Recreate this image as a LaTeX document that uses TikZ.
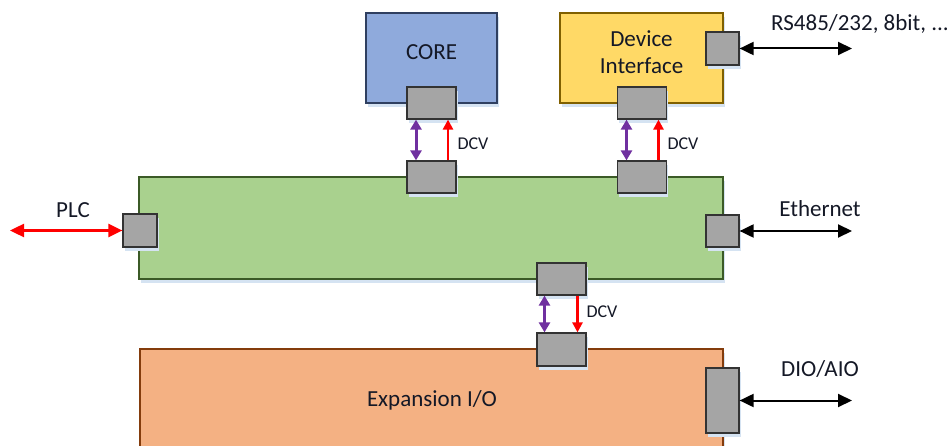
\documentclass[tikz,border=0pt]{standalone}
\usepackage{fontspec}
\setmainfont{Carlito}
\usetikzlibrary{arrows.meta,shadows}
\definecolor{coreblue}{HTML}{8FAADC}
\definecolor{coreline}{HTML}{2F3F60}
\definecolor{devyellow}{HTML}{FFD966}
\definecolor{devline}{HTML}{806000}
\definecolor{busgreen}{HTML}{A9D18E}
\definecolor{busline}{HTML}{3B5A26}
\definecolor{exporange}{HTML}{F4B183}
\definecolor{expline}{HTML}{843C0C}
\definecolor{portgray}{HTML}{A5A5A5}
\definecolor{portline}{HTML}{333333}
\definecolor{sigpurple}{HTML}{7030A0}
\definecolor{sigred}{HTML}{FF0000}
\definecolor{shadowblue}{HTML}{D5E3F2}
\definecolor{textdark}{HTML}{141826}
\tikzset{
  boxshadow/.style={drop shadow={shadow xshift=1.5pt, shadow yshift=-4pt, fill=shadowblue, opacity=1}},
  block/.style={draw, line width=1.6pt, inner sep=0pt, boxshadow},
  port/.style={draw=portline, fill=portgray, line width=1.2pt, inner sep=0pt, boxshadow},
  lbl/.style={font=\fontsize{23}{27}\selectfont, text=textdark, inner sep=0pt, align=center},
  dcv/.style={font=\fontsize{18}{21}\selectfont, text=textdark, inner sep=0pt},
  extarrow/.style={line width=2pt, {Triangle[length=14pt,width=13pt]}-{Triangle[length=14pt,width=13pt]}},
  plcarrow/.style={draw=sigred, line width=2.4pt, {Triangle[length=14pt,width=13pt]}-{Triangle[length=14pt,width=13pt]}},
  busarrow/.style={draw=sigpurple, fill=sigpurple, line width=3pt, {Triangle[length=10pt,width=11pt]}-{Triangle[length=10pt,width=11pt]}},
  dcvarrow/.style={draw=sigred, fill=sigred, line width=2.5pt, -{Triangle[length=10pt,width=10pt]}},
}
\begin{document}
\begin{tikzpicture}[x=1pt,y=-1pt]
\useasboundingbox (0,0) rectangle (950,446);
\clip (0,0) rectangle (950,446);

% main blocks
\node[block, fill=coreblue, draw=coreline, minimum width=131pt, minimum height=90pt] (core) at (431.5,58) {};
\node[block, fill=devyellow, draw=devline, minimum width=163pt, minimum height=90pt] (dev) at (641.5,58) {};
\node[block, fill=busgreen, draw=busline, minimum width=584pt, minimum height=102pt] (bus) at (431,228) {};
\node[block, fill=exporange, draw=expline, minimum width=583pt, minimum height=112pt] (exp) at (431.5,405) {};

% block titles
\node[lbl] (corelbl) at (431.5,52) {CORE};
\node[lbl] (devlbl) at (641.5,52) {Device\\Interface};
\node[lbl] (explbl) at (432,400) {Expansion I/O};

% ports
\node[port, minimum width=49pt, minimum height=32pt] (pc1) at (431.5,103) {};
\node[port, minimum width=49pt, minimum height=32pt] (pc2) at (431.5,177) {};
\node[port, minimum width=49pt, minimum height=32pt] (pd1) at (642,103) {};
\node[port, minimum width=49pt, minimum height=32pt] (pd2) at (642,177) {};
\node[port, minimum width=33pt, minimum height=33pt] (pd3) at (722.5,48.5) {};
\node[port, minimum width=34pt, minimum height=33pt] (pplc) at (140,230.5) {};
\node[port, minimum width=33pt, minimum height=32pt] (peth) at (722.5,231) {};
\node[port, minimum width=49pt, minimum height=32pt] (pe1) at (561.5,279) {};
\node[port, minimum width=49pt, minimum height=33pt] (pe2) at (561.5,349.5) {};
\node[port, minimum width=33pt, minimum height=65pt] (pdio) at (722.5,400.5) {};

% external endpoints
\coordinate (rsend) at (852,48.5);
\coordinate (plcend) at (10,230.5);
\coordinate (ethend) at (852,231);
\coordinate (dioend) at (852,400.5);

% external links
\draw[extarrow] (pd3.east) -- (rsend);
\draw[extarrow] (peth.east) -- (ethend);
\draw[extarrow] (pdio.east) -- (dioend);
\draw[plcarrow] (plcend) -- (pplc.west);

% internal links
\draw[busarrow] ([xshift=-15.5pt]pc1.south) -- ([xshift=-15.5pt]pc2.north);
\draw[dcvarrow] ([xshift=16.5pt]pc2.north) -- ([xshift=16.5pt]pc1.south);
\draw[busarrow] ([xshift=-15.5pt]pd1.south) -- ([xshift=-15.5pt]pd2.north);
\draw[dcvarrow] ([xshift=16.5pt]pd2.north) -- ([xshift=16.5pt]pd1.south);
\draw[busarrow] ([xshift=-17pt]pe1.south) -- ([xshift=-17pt]pe2.north);
\draw[dcvarrow] ([xshift=16pt]pe1.south) -- ([xshift=16pt]pe2.north);

% labels
\node[lbl] (lrs) at (860,24) {RS485/232, 8bit, ...};
\node[lbl] (lplc) at (73,210) {PLC};
\node[lbl] (leth) at (820,209) {Ethernet};
\node[lbl] (ldio) at (820,369) {DIO/AIO};
\node[dcv] (dcv1) at (473,144) {DCV};
\node[dcv] (dcv2) at (683,144) {DCV};
\node[dcv] (dcv3) at (602,312) {DCV};
\end{tikzpicture}
\end{document}
